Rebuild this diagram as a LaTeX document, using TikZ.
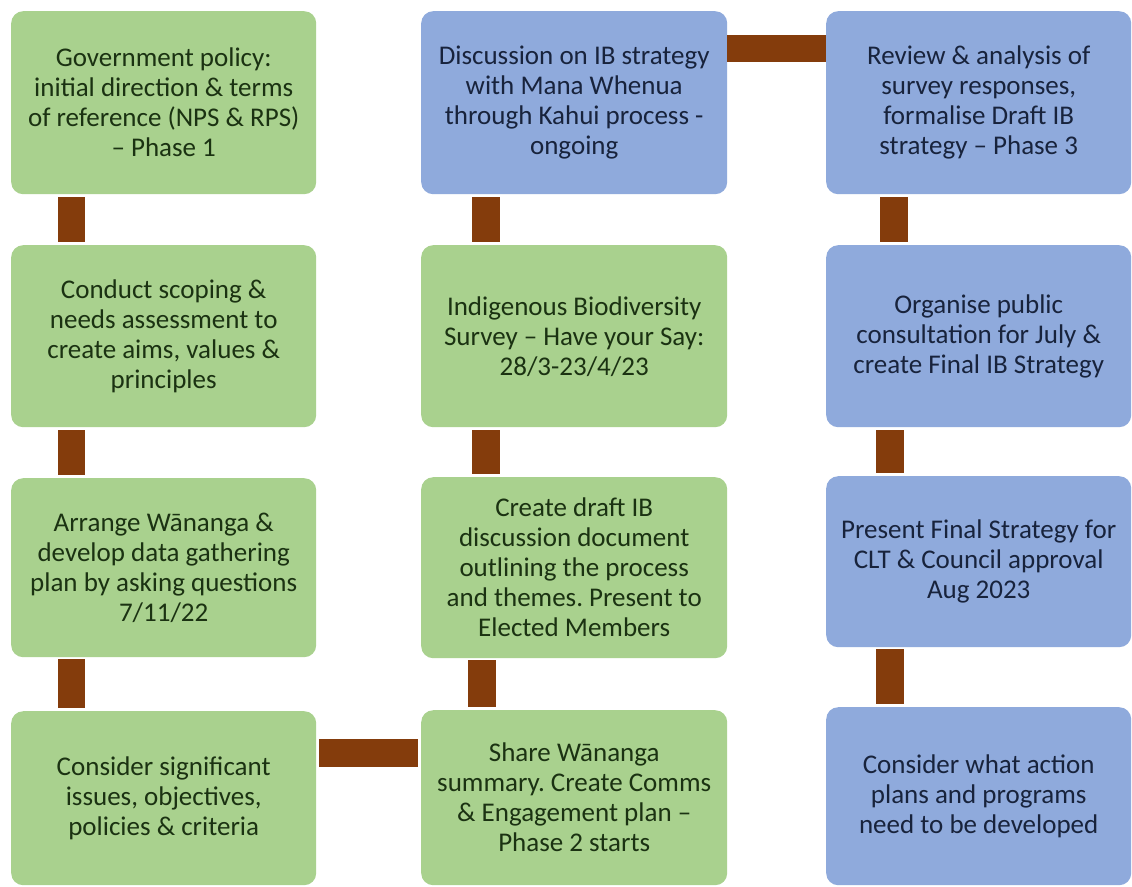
\documentclass[tikz,border=0pt]{standalone}
\usepackage{fontspec}
\setmainfont{Carlito}
\frenchspacing
\usetikzlibrary{calc}
\definecolor{boxgreen}{HTML}{A9D18E}
\definecolor{boxblue}{HTML}{8FAADC}
\definecolor{textgreen}{HTML}{1B3212}
\definecolor{textblue}{HTML}{18233C}
\definecolor{connbrown}{HTML}{843C0C}
\tikzset{
  box/.style={rounded corners=12pt, minimum width=305pt, anchor=north west,
    align=center, inner sep=0pt, font=\fontsize{27}{30}\selectfont},
  gbox/.style={box, fill=boxgreen, text=textgreen},
  bbox/.style={box, fill=boxblue, text=textblue},
  conn/.style={draw=connbrown, line width=27.5pt},
}
\begin{document}
\begin{tikzpicture}[x=1pt,y=-1pt]
\useasboundingbox[fill=white] (0,0) rectangle (1132,886);
% column 1
\node[gbox, minimum height=183pt] (a1) at (11,11) {Government policy:\\initial direction \& terms\\of reference (NPS \& RPS)\\– Phase 1};
\node[gbox, minimum height=182pt] (a2) at (11,245) {Conduct scoping \&\\needs assessment to\\create aims, values \&\\principles};
\node[gbox, minimum height=179pt] (a3) at (11,478) {Arrange Wānanga \&\\develop data gathering\\plan by asking questions\\7/11/22};
\node[gbox, minimum height=174pt] (a4) at (11,711) {Consider significant\\issues, objectives,\\policies \& criteria};
% column 2
\node[bbox, minimum height=183pt, minimum width=306pt] (b1) at (421,11) {Discussion on IB strategy\\with Mana Whenua\\through Kahui process -\\ongoing};
\node[gbox, minimum height=182pt, minimum width=306pt] (b2) at (421,245) {Indigenous Biodiversity\\Survey – Have your Say:\\28/3-23/4/23};
\node[gbox, minimum height=181pt, minimum width=306pt] (b3) at (421,477) {Create draft IB\\discussion document\\outlining the process\\and themes. Present to\\Elected Members};
\node[gbox, minimum height=175pt, minimum width=306pt] (b4) at (421,710) {Share Wānanga\\summary. Create Comms\\\& Engagement plan –\\Phase 2 starts};
% column 3
\node[bbox, minimum height=183pt] (c1) at (826,11) {Review \& analysis of\\survey responses,\\formalise Draft IB\\strategy – Phase 3};
\node[bbox, minimum height=182pt] (c2) at (826,245) {Organise public\\consultation for July \&\\create Final IB Strategy};
\node[bbox, minimum height=171pt] (c3) at (826,476) {Present Final Strategy for\\CLT \& Council approval\\Aug 2023};
\node[bbox, minimum height=178pt] (c4) at (826,707) {Consider what action\\plans and programs\\need to be developed};
% vertical connectors
\draw[conn] ($(a1.south west)+(60.5,3)$) -- ($(a2.north west)+(60.5,-3)$);
\draw[conn] ($(a2.south west)+(60.5,3)$) -- ($(a3.north west)+(60.5,-3)$);
\draw[conn] ($(a3.south west)+(60.5,2)$) -- ($(a4.north west)+(60.5,-3)$);
\draw[conn] ($(b1.south west)+(65,3)$) -- ($(b2.north west)+(65,-3)$);
\draw[conn] ($(b2.south west)+(65,3)$) -- ($(b3.north west)+(65,-3)$);
\draw[conn] ($(b3.south west)+(61,2)$) -- ($(b4.north west)+(61,-3)$);
\draw[conn] ($(c1.south west)+(68,3)$) -- ($(c2.north west)+(68,-3)$);
\draw[conn] ($(c2.south west)+(64,3)$) -- ($(c3.north west)+(64,-3)$);
\draw[conn] ($(c3.south west)+(64,2)$) -- ($(c4.north west)+(64,-3)$);
% horizontal connectors
\coordinate (t1) at ($(b1.north east)+(0,37.5)$);
\draw[conn] (t1) -- (t1 -| c1.west);
\coordinate (t2) at ($(a4.north east)+(3,42)$);
\draw[conn] (t2) -- ($(t2 -| b4.west)+(-3,0)$);
\end{tikzpicture}
\end{document}
